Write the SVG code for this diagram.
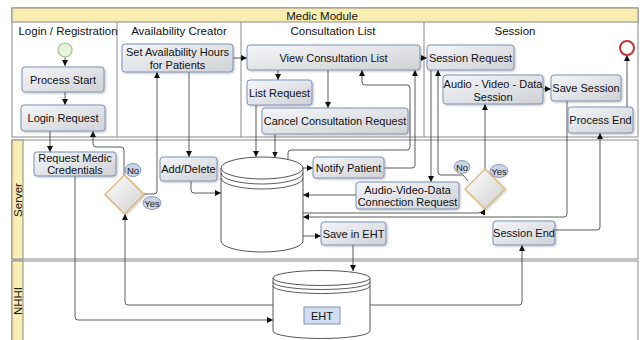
<svg xmlns="http://www.w3.org/2000/svg" width="643" height="340" viewBox="0 0 643 340">
<defs>
<linearGradient id="boxg" x1="0" y1="0" x2="1" y2="1">
<stop offset="0" stop-color="#f4f6fa"/>
<stop offset="1" stop-color="#cfd1d5"/>
</linearGradient>
<linearGradient id="diag" x1="0" y1="0" x2="1" y2="1">
<stop offset="0" stop-color="#ffffff"/>
<stop offset="1" stop-color="#cfcfcf"/>
</linearGradient>
<marker id="arr" viewBox="0 0 6 6" refX="6" refY="3" markerWidth="6" markerHeight="6" markerUnits="userSpaceOnUse" orient="auto">
<path d="M0,0 L6,3 L0,6 z" fill="#111"/>
</marker>
<filter id="sh" x="-10%" y="-10%" width="130%" height="140%">
<feDropShadow dx="1" dy="1" stdDeviation="0.8" flood-color="#000" flood-opacity="0.25"/>
</filter>
</defs>
<style>
.pool{fill:#fff;stroke:#8a8a8a;stroke-width:1}
.band{fill:#faedb2;stroke:#8a8a8a;stroke-width:1}
.div{stroke:#8a8a8a;stroke-width:1}
.box{fill:url(#boxg);stroke:#7c92b8;stroke-width:1;filter:url(#sh)}
.t{font-family:"Liberation Sans",Arial,sans-serif;font-size:11px;fill:#111;text-anchor:middle}
.h{font-family:"Liberation Sans",Arial,sans-serif;font-size:11.5px;fill:#111;text-anchor:middle}
.lbl{fill:#c9d4e6;stroke:#7489ab;stroke-width:0.8}
.lt{font-family:"Liberation Sans",Arial,sans-serif;font-size:9.5px;fill:#222;text-anchor:middle}
.dia{fill:url(#diag);stroke:#e0b46a;stroke-width:1.2;filter:url(#sh)}
.cyl{fill:#fff;stroke:#555;stroke-width:1}
.c{fill:none;stroke:#333;stroke-width:0.8}
.a{marker-end:url(#arr)}
</style>

<!-- Pools and lanes -->
<g id="pool-medic">
<rect class="pool" x="12" y="8" width="626" height="129"/>
<rect class="band" x="12" y="8" width="626" height="14"/>
<text class="h" x="322" y="19.5">Medic Module</text>
<line class="div" x1="117" y1="22" x2="117" y2="137"/>
<line class="div" x1="241" y1="22" x2="241" y2="137"/>
<line class="div" x1="424" y1="22" x2="424" y2="137"/>
<text class="h" x="68" y="35">Login / Registration</text>
<text class="h" x="179" y="35">Availability Creator</text>
<text class="h" x="333" y="35">Consultation List</text>
<text class="h" x="515" y="35">Session</text>
</g>
<g id="lane-server">
<rect class="pool" x="12" y="140" width="626" height="119"/>
<rect class="band" x="12" y="140" width="11" height="119"/>
<text class="h" transform="translate(21.5,200) rotate(-90)">Server</text>
</g>
<g id="lane-nhhi">
<rect class="pool" x="12" y="261" width="626" height="82"/>
<rect class="band" x="12" y="261" width="11" height="82"/>
<text class="h" transform="translate(21.5,301) rotate(-90)">NHHI</text>
</g>

<!-- Connectors -->
<g id="connectors">
<path class="c a" d="M65,57 L65,66"/>
<path class="c a" d="M65,92 L65,105"/>
<path class="c a" d="M50,131 L50,152"/>
<path class="c a" d="M124,175 L124,150 Q124,147 121,147 L96,147 Q93,147 93,144 L93,131"/>
<path class="c a" d="M144,194 L154,194 Q157,194 157,191 L157,72"/>
<path class="c a" d="M189,72 L189,157"/>
<path class="c a" d="M233,58 L247,58"/>
<path class="c a" d="M191,181 L191,190 Q191,193 194,193 L221,193"/>
<path class="c a" d="M75,176 L75,317 Q75,320 78,320 L273,320"/>
<path class="c a" d="M273,305 L128,305 Q125,305 125,302 L125,214"/>
<path class="c a" d="M278,70 L278,80"/>
<path class="c a" d="M328,70 L328,108"/>
<path class="c a" d="M256,105 L256,157"/>
<path class="c a" d="M275,134 L275,157.5"/>
<path class="c a" d="M288,159.5 L288,153 Q288,150 291,150 L407,150 Q410,150 410,147 L410,88 Q410,85 407,85 L365,85 Q362,85 362,82 L362,70"/>
<path class="c a" d="M384,168 L412,168 Q415,168 415,165 L415,70"/>
<path class="c a" d="M303,168 L313,168"/>
<path class="c a" d="M356,195 L303,195"/>
<path class="c a" d="M303,213 L478,213 Q483,213 485,209"/>
<path class="c a" d="M567,101 L567,214 Q567,217 564,217 L303,217"/>
<path class="c a" d="M431,70 L431,182"/>
<path class="c a" d="M468,181 L463,175 L441,175 Q438,175 438,172 L438,70"/>
<path class="c a" d="M485,169 L485,104"/>
<path class="c a" d="M420,58 L427,58"/>
<path class="c a" d="M543,89 L551,89"/>
<path class="c a" d="M627,107 L627,55"/>
<path class="c a" d="M555,230 L597,230 Q600,230 600,227 L600,133"/>
<path class="c a" d="M370,305 L519,305 Q522,305 522,302 L522,245"/>
<path class="c a" d="M353,245 L353,271"/>
<path class="c a" d="M303,236 L321,236"/>
</g>

<!-- Events -->
<g id="start"><circle cx="65" cy="50" r="7" fill="#e6f4de" stroke="#9cc48a" stroke-width="1.2"/></g>
<g id="end"><circle cx="627" cy="48" r="7" fill="#fff" stroke="#c8322e" stroke-width="2"/></g>

<!-- Tasks -->
<g id="process-start"><rect class="box" x="22" y="67" width="82" height="25" rx="3"/><text class="t" x="63" y="83.5">Process Start</text></g>
<g id="login-request"><rect class="box" x="21" y="105" width="84" height="26" rx="3"/><text class="t" x="63" y="122">Login Request</text></g>
<g id="set-availability"><rect class="box" x="122" y="44" width="111" height="28" rx="3"/><text class="t" x="177.5" y="55.5">Set Availability Hours</text><text class="t" x="177.5" y="68.5">for Patients</text></g>
<g id="view-consultation"><rect class="box" x="247" y="45" width="173" height="25" rx="3"/><text class="t" x="333.5" y="61.5">View Consultation List</text></g>
<g id="list-request"><rect class="box" x="247" y="80" width="65" height="25" rx="3"/><text class="t" x="279.5" y="96.5">List Request</text></g>
<g id="cancel-request"><rect class="box" x="262" y="108" width="146" height="26" rx="3"/><text class="t" x="335" y="125">Cancel Consultation Request</text></g>
<g id="session-request"><rect class="box" x="427" y="45" width="87" height="25" rx="3"/><text class="t" x="470.5" y="61.5">Session Request</text></g>
<g id="av-session"><rect class="box" x="443" y="75" width="100" height="29" rx="3"/><text class="t" x="493" y="87.5">Audio - Video - Data</text><text class="t" x="493" y="100.5">Session</text></g>
<g id="save-session"><rect class="box" x="551" y="75" width="70" height="26" rx="3"/><text class="t" x="586" y="92">Save Session</text></g>
<g id="process-end"><rect class="box" x="568" y="107" width="65" height="26" rx="3"/><text class="t" x="600.5" y="124">Process End</text></g>
<g id="request-credentials"><rect class="box" x="34" y="152" width="82" height="24" rx="3"/><text class="t" x="75" y="161.5">Request Medic</text><text class="t" x="75" y="174">Credentials</text></g>
<g id="add-delete"><rect class="box" x="160" y="157" width="57" height="24" rx="3"/><text class="t" x="188.5" y="173">Add/Delete</text></g>
<g id="notify-patient"><rect class="box" x="313" y="157" width="71" height="21" rx="3"/><text class="t" x="348.5" y="171.5">Notify Patient</text></g>
<g id="av-connection"><rect class="box" x="356" y="182" width="103" height="27" rx="3"/><text class="t" x="407.5" y="193.5">Audio-Video-Data</text><text class="t" x="407.5" y="206">Connection Request</text></g>
<g id="save-eht"><rect class="box" x="321" y="222" width="65" height="23" rx="3"/><text class="t" x="353.5" y="237.5">Save in EHT</text></g>
<g id="session-end"><rect class="box" x="493" y="221" width="62" height="24" rx="3"/><text class="t" x="524" y="237">Session End</text></g>

<!-- Gateways -->
<g id="gateway-login"><path class="dia" d="M124.5,175 L144,194.5 L124.5,214 L105,194.5 z"/>
<ellipse class="lbl" cx="133" cy="170" rx="8" ry="6.5"/><text class="lt" x="133" y="173.5">No</text>
<ellipse class="lbl" cx="152" cy="203" rx="9" ry="6.5"/><text class="lt" x="152" y="206.5">Yes</text></g>
<g id="gateway-session"><path class="dia" d="M485,169 L505,189 L485,209 L465,189 z"/>
<ellipse class="lbl" cx="462" cy="167" rx="8" ry="6.5"/><text class="lt" x="462" y="170.5">No</text>
<ellipse class="lbl" cx="499" cy="171" rx="9" ry="6.5"/><text class="lt" x="499" y="174.5">Yes</text></g>

<!-- Data stores -->
<g id="server-db">
<path class="cyl" d="M221,168 L221,241 A41,11 0 0 0 303,241 L303,168 A41,11 0 0 0 221,168 z"/>
<path class="cyl" d="M221,168 A41,11 0 0 0 303,168"/>
<path class="c" d="M221,173 A41,11 0 0 0 303,173"/>
<path class="c" d="M221,178 A41,11 0 0 0 303,178"/>
</g>
<g id="eht-db">
<path class="cyl" d="M273,278 L273,331 A48.5,7.5 0 0 0 370,331 L370,278 A48.5,7.5 0 0 0 273,278 z"/>
<path class="cyl" d="M273,278 A48.5,7.5 0 0 0 370,278"/>
<path class="c" d="M273,282 A48.5,7.5 0 0 0 370,282"/>
<path class="c" d="M273,286 A48.5,7.5 0 0 0 370,286"/>
<rect x="304" y="307" width="36" height="17" fill="#d2ddef" stroke="#7c92b8" stroke-width="1"/>
<text class="t" x="322" y="320">EHT</text>
</g>
</svg>
